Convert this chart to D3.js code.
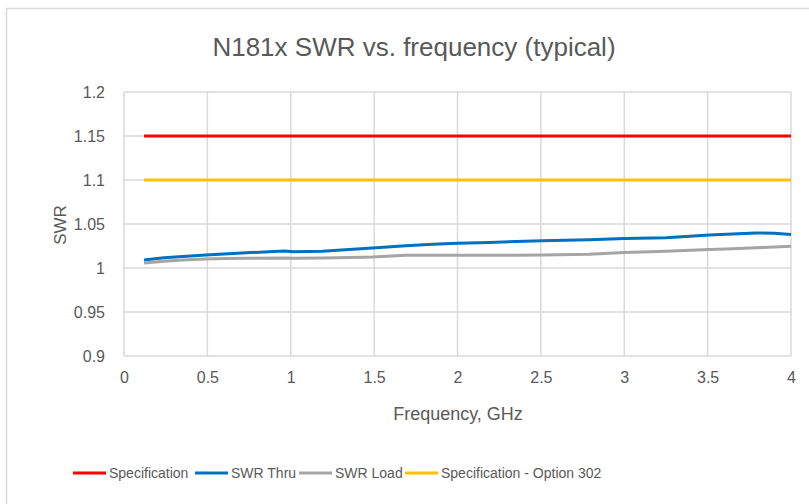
<!DOCTYPE html>
<html>
<head>
<meta charset="utf-8">
<script src="https://cdn.jsdelivr.net/npm/d3@7"></script>
<style>
  body { margin: 0; background: #fff; }
  text { font-family: "Liberation Sans", "DejaVu Sans", sans-serif; fill: #595959; }
</style>
</head>
<body>
<svg id="chart"></svg>
<script>
// frequency points (GHz) and measured SWR values
const freq = [0.12, 0.24, 0.35, 0.49, 0.6, 0.76, 0.96, 1.02, 1.19, 1.35, 1.49, 1.69, 1.85, 2.0,
  2.19, 2.35, 2.51, 2.79, 3.0, 3.25, 3.51, 3.65, 3.79, 3.9, 4.0];
const swrThru = [1.009, 1.0117, 1.013, 1.0148, 1.016, 1.0175, 1.0192, 1.0186, 1.019, 1.021, 1.0227,
  1.0254, 1.027, 1.028, 1.029, 1.030, 1.031, 1.032, 1.0335, 1.0345, 1.0375, 1.0385, 1.0398, 1.0395, 1.038];
const swrLoad = [1.0057, 1.0076, 1.009, 1.0102, 1.0108, 1.011, 1.0114, 1.0112, 1.0115, 1.012, 1.0125,
  1.0144, 1.0145, 1.0144, 1.0144, 1.0146, 1.0148, 1.0155, 1.0175, 1.019, 1.021, 1.022, 1.023, 1.024, 1.0246];
const specFreq = [0.12, 4];
const spec = [1.15, 1.15];
const specOpt302 = [1.1, 1.1];

const xTicks = [0, 0.5, 1, 1.5, 2, 2.5, 3, 3.5, 4];
const yTicks = [0.9, 0.95, 1, 1.05, 1.1, 1.15, 1.2];

const series = [
  { name: 'Specification', x: specFreq, y: spec, color: '#ff0000' },
  { name: 'SWR Thru', x: freq, y: swrThru, color: '#0070c0' },
  { name: 'SWR Load', x: freq, y: swrLoad, color: '#a5a5a5' },
  { name: 'Specification - Option 302', x: specFreq, y: specOpt302, color: '#ffc000' }
];

const dim = { width: 809, height: 504 };
const plot = { left: 124, right: 791, top: 92, bottom: 356 };

const svg = d3.select('#chart')
  .attr('width', dim.width)
  .attr('height', dim.height);

// chart area border
svg.append('rect')
  .attr('x', 6.5).attr('y', 8.5)
  .attr('width', 900).attr('height', 600)
  .attr('fill', '#fff')
  .attr('stroke', '#d9d9d9')
  .attr('stroke-width', 1.5);

const x = d3.scaleLinear().domain([0, 4]).range([plot.left, plot.right]);
const y = d3.scaleLinear().domain([0.9, 1.2]).range([plot.bottom, plot.top]);

// gridlines
const grid = svg.append('g').attr('stroke', '#d9d9d9').attr('stroke-width', 1.5);
yTicks.forEach(t => {
  grid.append('line')
    .attr('x1', plot.left).attr('x2', plot.right)
    .attr('y1', y(t)).attr('y2', y(t));
});
xTicks.forEach(t => {
  grid.append('line')
    .attr('x1', x(t)).attr('x2', x(t))
    .attr('y1', plot.top).attr('y2', plot.bottom);
});

// axes (tick labels only, Excel style)
const yAxis = svg.append('g')
  .attr('transform', `translate(${plot.left},0)`)
  .call(d3.axisLeft(y).tickValues(yTicks).tickSize(0).tickPadding(19).tickFormat(d => String(+d.toFixed(2))));
const xAxis = svg.append('g')
  .attr('transform', `translate(0,${plot.bottom})`)
  .call(d3.axisBottom(x).tickValues(xTicks).tickSize(0).tickPadding(16).tickFormat(d => String(d)));
[yAxis, xAxis].forEach(a => {
  a.select('.domain').remove();
  a.selectAll('text').attr('font-size', 16).attr('fill', '#595959')
    .style('font-family', '"Liberation Sans", sans-serif');
});

// series lines
const line = d3.line().x(d => x(d[0])).y(d => y(d[1]));
series.forEach(s => {
  svg.append('path')
    .datum(s.x.map((v, i) => [v, s.y[i]]))
    .attr('d', line)
    .attr('fill', 'none')
    .attr('stroke', s.color)
    .attr('stroke-width', 3)
    .attr('stroke-linejoin', 'round');
});

// titles
svg.append('text')
  .attr('x', 414).attr('y', 56)
  .attr('text-anchor', 'middle')
  .attr('font-size', 26)
  .text('N181x SWR vs. frequency (typical)');

svg.append('text')
  .attr('x', 458).attr('y', 420)
  .attr('text-anchor', 'middle')
  .attr('font-size', 18)
  .text('Frequency, GHz');

svg.append('text')
  .attr('transform', 'translate(66,225) rotate(-90)')
  .attr('text-anchor', 'middle')
  .attr('font-size', 17)
  .text('SWR');

// legend
const legendY = 473;
const lineLen = 33;
const legendStarts = [73, 195, 299, 405];
const legend = svg.append('g');
series.forEach((s, i) => {
  const lx = legendStarts[i];
  legend.append('line')
    .attr('x1', lx).attr('x2', lx + lineLen)
    .attr('y1', legendY).attr('y2', legendY)
    .attr('stroke', s.color)
    .attr('stroke-width', 3);
  legend.append('text')
    .attr('x', lx + lineLen + 3)
    .attr('y', legendY + 5)
    .attr('font-size', 14)
    .text(s.name);
});
</script>
</body>
</html>
